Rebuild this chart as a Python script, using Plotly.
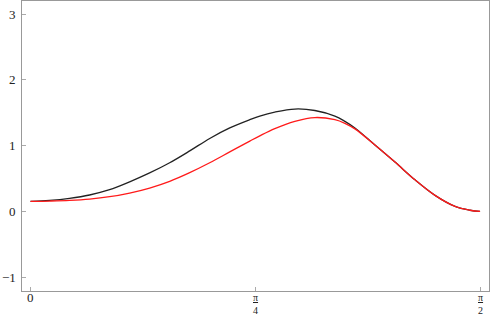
import math
import plotly.graph_objects as go

x_vals = [0.0, 0.0665, 0.1364, 0.2064, 0.2764, 0.3464, 0.4163, 0.4863, 0.5563, 0.6262,
          0.6962, 0.7662, 0.8011, 0.8536, 0.9236, 0.9936, 1.0635, 1.0985, 1.1335, 1.2035,
          1.2735, 1.3434, 1.4134, 1.4834, 1.5358, math.pi / 2]
black_vals = [0.153, 0.168, 0.20, 0.25, 0.33, 0.45, 0.585, 0.74, 0.92, 1.11,
              1.27, 1.395, 1.45, 1.51, 1.557, 1.535, 1.45, 1.37, 1.27, 1.01,
              0.75, 0.48, 0.244, 0.076, 0.018, 0.0]
red_vals = [0.153, 0.158, 0.168, 0.188, 0.224, 0.28, 0.356, 0.458, 0.59, 0.74,
            0.905, 1.07, 1.15, 1.26, 1.37, 1.428, 1.395, 1.34, 1.255, 1.01,
            0.75, 0.48, 0.244, 0.076, 0.018, 0.0]

x_tick_vals = [0, math.pi / 4, math.pi / 2]
x_tick_text = ["0", "<u>π</u><br>4", "<u>π</u><br>2"]
x_tick_sizes = [13, 10, 10]
y_tick_vals = [-1, 0, 1, 2, 3]
y_tick_text = ["−1", "0", "1", "2", "3"]

fig = go.Figure()
fig.add_trace(go.Scatter(x=x_vals, y=black_vals, mode="lines", line_shape="spline",
                         line=dict(color="#222222", width=1.3, smoothing=1.0)))
fig.add_trace(go.Scatter(x=x_vals, y=red_vals, mode="lines", line_shape="spline",
                         line=dict(color="#ff1a1a", width=1.3, smoothing=1.0)))

axis_common = dict(showline=True, linecolor="#999999", linewidth=1, mirror=True,
                   showgrid=False, zeroline=False, ticks="inside", ticklen=4,
                   tickcolor="#aaaaaa", tickwidth=1, automargin=False,
                   showticklabels=False)

label_font = dict(family="Liberation Serif", color="#222222")

for tv, tt, ts in zip(x_tick_vals, x_tick_text, x_tick_sizes):
    fig.add_annotation(x=tv, y=0, xref="x", yref="paper", text=tt, showarrow=False,
                       xanchor="center", yanchor="top", yshift=(3 if ts > 11 else 1),
                       font=dict(size=ts, **label_font))

for tv, tt in zip(y_tick_vals, y_tick_text):
    fig.add_annotation(x=0, y=tv, xref="paper", yref="y", text=tt, showarrow=False,
                       xanchor="right", yanchor="middle", xshift=-4,
                       font=dict(size=13, **label_font))

fig.update_layout(
    width=490, height=317,
    margin=dict(l=22, r=1, t=1, b=26),
    paper_bgcolor="white", plot_bgcolor="white",
    showlegend=False,
    xaxis=dict(range=[-0.0297, 1.602], tickmode="array", tickvals=x_tick_vals, **axis_common),
    yaxis=dict(range=[-1.21, 3.2], tickmode="array", tickvals=y_tick_vals, **axis_common),
)

fig.write_html("out.html", config={"displayModeBar": False},
               post_script="document.body.style.margin='0';")
